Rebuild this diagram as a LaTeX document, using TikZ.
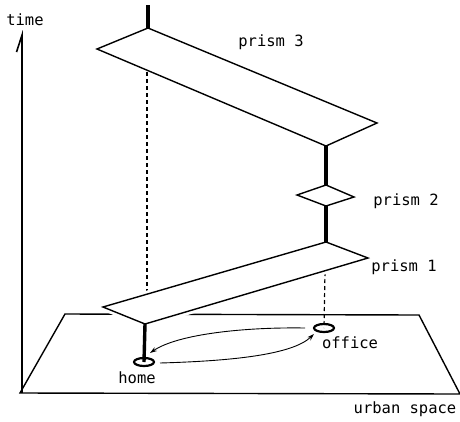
\documentclass[tikz,border=0pt]{standalone}
\usepackage{fontspec}
\setmonofont{DejaVu Sans Mono}
\usetikzlibrary{arrows.meta}

\begin{document}
\begin{tikzpicture}[x=1pt, y=-1pt,
  edge/.style={line width=1.4pt, line join=miter},
  stem/.style={line width=3.4pt},
  drop/.style={dash pattern=on 4pt off 3pt, line width=1.2pt},
  trip/.style={line width=0.9pt, -{Stealth[length=7pt,width=4.5pt]}},
  spot/.style={line width=2.2pt},
  lbl/.style={font=\ttfamily\fontsize{15.5}{18}\selectfont, inner sep=0pt}]
\useasboundingbox (0,0) rectangle (460,421);
% vertices
\coordinate (pl1) at (20,393);  \coordinate (pl2) at (460,394);
\coordinate (pl3) at (419,315); \coordinate (pl4) at (65,314);
\coordinate (a1) at (103,307); \coordinate (a2) at (145,324);
\coordinate (a3) at (368,258); \coordinate (a4) at (326,242);
\coordinate (b1) at (297,195); \coordinate (b2) at (326,206);
\coordinate (b3) at (354,197); \coordinate (b4) at (326,185);
\coordinate (c1) at (97,49);   \coordinate (c2) at (326,146);
\coordinate (c3) at (377,123); \coordinate (c4) at (148,28);
\coordinate (ctop) at (148,5);
\coordinate (hm) at (144,362); \coordinate (of) at (324,328);
\coordinate (ax0) at (22,393); \coordinate (ax1) at (22,30);
% axis
\draw[edge, -{Straight Barb[harpoon,length=17pt,width=11pt,line width=1.6pt]}] (ax0) -- (ax1);
% urban plane
\draw[edge] (pl4) -- (pl1) -- (pl2) -- (pl3) -- cycle;
% location spots and trips
\draw[spot] (hm) ellipse[x radius=10pt, y radius=4pt];
\draw[spot] (of) ellipse[x radius=10pt, y radius=4pt];
\draw[trip] (305,328) .. controls (245,327) and (178,334) .. (150,353);
\draw[trip] (160,363) .. controls (230,361) and (292,355) .. (314,334);
% dashed drops
\draw[drop] (147,72) -- (147,293);
\draw[drop] (325,272) -- (of);
% prisms
\draw[white, line width=7pt, fill=white] (a1) -- (a2) -- (a3) -- (a4) -- cycle;
\draw[edge] (a1) -- (a2) -- (a3) -- (a4) -- cycle;
\draw[edge] (b1) -- (b2) -- (b3) -- (b4) -- cycle;
\draw[edge] (c1) -- (c2) -- (c3) -- (c4) -- cycle;
% life path
\draw[stem] (hm) -- (a2);
\draw[stem] (a4) -- (b2);
\draw[stem] (b4) -- (c2);
\draw[stem] (c4) -- (ctop);
% labels
\node[lbl] (ltime) at (25,20) {time};
\node[lbl] (lp3) at (271,42) {prism 3};
\node[lbl] (lp2) at (406,201) {prism 2};
\node[lbl] (lp1) at (404,267) {prism 1};
\node[lbl] (loff) at (350,343) {office};
\node[lbl] (lhome) at (137,378) {home};
\node[lbl] (lurb) at (405,409) {urban space};
\end{tikzpicture}
\end{document}
